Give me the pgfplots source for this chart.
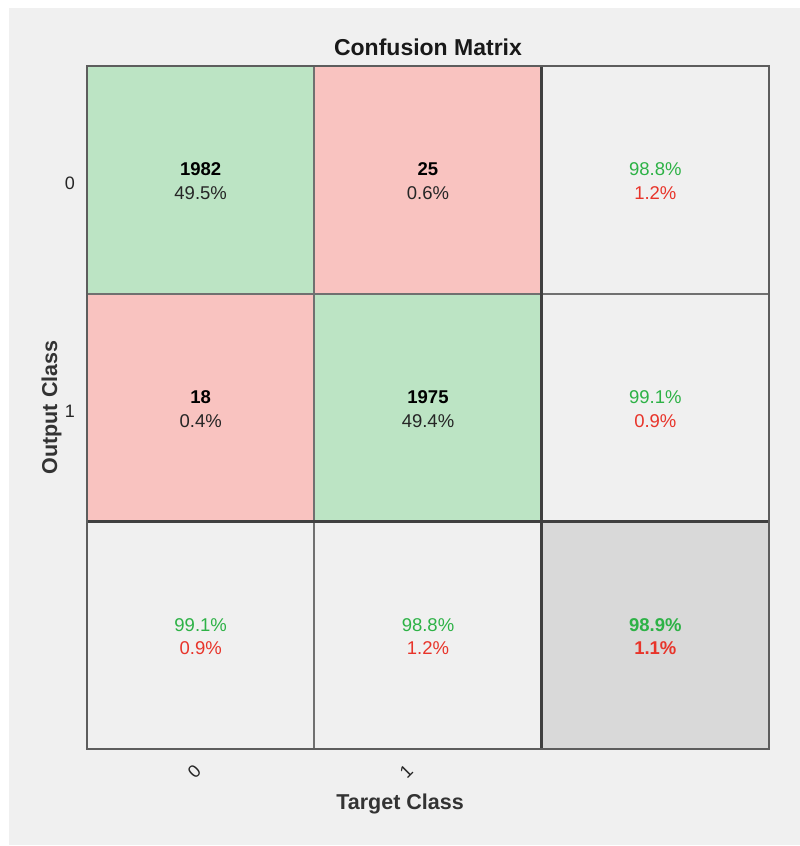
\documentclass[border=0pt]{standalone}
\usepackage{fontspec}
\setmainfont{Liberation Sans}
\usepackage{pgfplots}
\usepackage{pgfplotstable}
\pgfplotsset{compat=1.18}

\definecolor{bgc}{RGB}{240,240,240}
\definecolor{cellgreen}{RGB}{188,228,196}
\definecolor{cellred}{RGB}{249,195,192}
\definecolor{cellgray}{RGB}{217,217,217}
\definecolor{txtgreen}{RGB}{45,178,70}
\definecolor{txtred}{RGB}{232,52,42}
\definecolor{thinline}{RGB}{112,112,112}
\definecolor{thickline}{RGB}{64,64,64}

% cell colour index: 0 plain, 1 correct, 2 wrong, 3 total
\pgfplotstableread{
x y c
0 0 1
1 0 2
2 0 0
0 1 2
1 1 1
2 1 0
0 2 0
1 2 0
2 2 3
}\cells

\newcommand{\cellfont}{\fontsize{18.5bp}{22bp}\selectfont}

\begin{document}
\begin{tikzpicture}
\fill[white] (0,0) rectangle (800bp,846bp);
\fill[bgc] (9bp,1bp) rectangle (800bp,838bp);
\begin{axis}[
    at={(87bp,97bp)}, anchor=south west,
    width=682bp, height=683bp, scale only axis,
    xmin=-0.5, xmax=2.5, ymin=-0.5, ymax=2.5,
    y dir=reverse,
    axis line style={draw=thickline!85, line width=1.8bp},
    xtick={-0.018,0.914}, xticklabels={0,1},
    ytick={0,1}, yticklabels={0,1},
    major tick length=0pt,
    tick label style={font=\fontsize{18bp}{20bp}\selectfont, text=black!85},
    xticklabel style={xshift=1.4bp, yshift=-18.4bp, rotate=45, anchor=east, inner sep=0pt},
    yticklabel style={anchor=east, inner sep=0pt, xshift=-12bp, yshift=-3.5bp},
    title={Confusion Matrix},
    title style={at={(0.5,1)}, anchor=base, yshift=5bp,
      font=\fontsize{23bp}{26bp}\selectfont\bfseries, text=black!90},
    xlabel={Target Class},
    xlabel style={at={(axis description cs:0.459,0)}, anchor=base, yshift=-60bp,
      font=\fontsize{21.5bp}{24bp}\selectfont\bfseries, text=black!80},
    ylabel={Output Class},
    ylabel style={at={(axis description cs:0,0.5)}, anchor=base, yshift=30bp,
      font=\fontsize{21.5bp}{24bp}\selectfont\bfseries, text=black!80},
    colormap={cm}{rgb255=(240,240,240) rgb255=(188,228,196) rgb255=(249,195,192) rgb255=(217,217,217)},
    colormap access=direct,
    axis on top,
]
\addplot[matrix plot*, mesh/cols=3, point meta=explicit] table[x=x, y=y, meta=c] {\cells};

% cell borders
\draw[thinline, line width=2bp] (axis cs:0.5,-0.5) -- (axis cs:0.5,2.5);
\draw[thinline, line width=2bp] (axis cs:-0.5,0.5) -- (axis cs:2.5,0.5);
\draw[thickline, line width=3bp] (axis cs:1.5,-0.5) -- (axis cs:1.5,2.5);
\draw[thickline, line width=3bp] (axis cs:-0.5,1.5) -- (axis cs:2.5,1.5);

% counts and percentages
\path[font=\cellfont]
  (axis cs:0,-0.017) node[anchor=base] {\bfseries 1982}
  (axis cs:0,0.087)  node[anchor=base, text=black!85] {49.5\%}
  (axis cs:1,-0.017) node[anchor=base] {\bfseries 25}
  (axis cs:1,0.087)  node[anchor=base, text=black!85] {0.6\%}
  (axis cs:2,-0.017) node[anchor=base, text=txtgreen] {98.8\%}
  (axis cs:2,0.087)  node[anchor=base, text=txtred] {1.2\%}
  (axis cs:0,0.983) node[anchor=base] {\bfseries 18}
  (axis cs:0,1.087) node[anchor=base, text=black!85] {0.4\%}
  (axis cs:1,0.983) node[anchor=base] {\bfseries 1975}
  (axis cs:1,1.087) node[anchor=base, text=black!85] {49.4\%}
  (axis cs:2,0.983) node[anchor=base, text=txtgreen] {99.1\%}
  (axis cs:2,1.087) node[anchor=base, text=txtred] {0.9\%}
  (axis cs:0,1.983) node[anchor=base, text=txtgreen] {99.1\%}
  (axis cs:0,2.087) node[anchor=base, text=txtred] {0.9\%}
  (axis cs:1,1.983) node[anchor=base, text=txtgreen] {98.8\%}
  (axis cs:1,2.087) node[anchor=base, text=txtred] {1.2\%}
  (axis cs:2,1.983) node[anchor=base, text=txtgreen] {\bfseries 98.9\%}
  (axis cs:2,2.087) node[anchor=base, text=txtred] {\bfseries 1.1\%};
\end{axis}
\end{tikzpicture}
\end{document}
